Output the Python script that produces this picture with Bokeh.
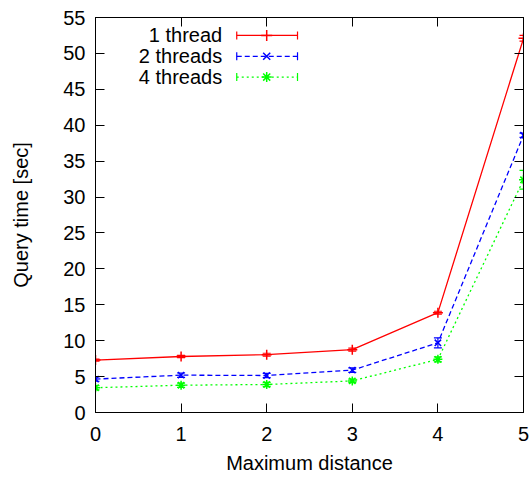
import math
from bokeh.plotting import figure
from bokeh.models import (ColumnDataSource, Whisker, TeeHead, LinearAxis, Range1d,
                          FixedTicker, Label)
from bokeh.embed import file_html
from bokeh.resources import INLINE

# ---- data ----
distance = [0, 1, 2, 3, 4, 5]
t1 = [7.3, 7.8, 8.05, 8.75, 13.9, 52.1]
t1_err = [0.15, 0.15, 0.2, 0.2, 0.2, 0.4]
t2 = [4.65, 5.2, 5.15, 5.9, 9.7, 38.6]
t2_err = [0.3, 0.3, 0.3, 0.3, 0.7, 0.3]
t4 = [3.45, 3.8, 3.9, 4.4, 7.4, 32.4]
t4_err = [0.3, 0.3, 0.3, 0.25, 0.35, 1.3]
series_labels = ["1 thread", "2 threads", "4 threads"]
x_ticks = [0, 1, 2, 3, 4, 5]
y_ticks = [0, 5, 10, 15, 20, 25, 30, 35, 40, 45, 50, 55]

FONT = "Liberation Sans"
FS = "20px"

p = figure(width=530, height=480, output_backend="svg", toolbar_location=None,
           x_range=Range1d(0, 5), y_range=Range1d(0, 55),
           min_border_left=95, min_border_right=7, min_border_top=17, min_border_bottom=68)
p.xgrid.visible = False
p.ygrid.visible = False
p.outline_line_color = "black"
p.outline_line_width = 1
p.background_fill_color = "white"
p.border_fill_color = "white"

def style_axis(ax, ticks, show_labels=True):
    ax.ticker = FixedTicker(ticks=ticks)
    ax.major_tick_in = 9
    ax.major_tick_out = 0
    ax.minor_tick_in = 0
    ax.minor_tick_out = 0
    ax.major_tick_line_color = "black"
    ax.axis_line_color = "black"
    ax.major_label_text_font = FONT
    ax.major_label_text_color = "black"
    ax.major_label_text_font_size = FS
    ax.axis_label_text_font = FONT
    ax.axis_label_text_font_size = FS
    ax.axis_label_text_font_style = "normal"
    ax.axis_label_text_color = "black"
    if not show_labels:
        ax.major_label_overrides = {t: "" for t in ticks}
        ax.major_label_standoff = 0

style_axis(p.xaxis[0], x_ticks)
style_axis(p.yaxis[0], y_ticks)
p.xaxis[0].axis_label = "Maximum distance"
p.xaxis[0].major_label_standoff = 14
p.xaxis[0].axis_label_standoff = 8
p.yaxis[0].axis_label = "Query time [sec]"
p.yaxis[0].major_label_standoff = 10
p.yaxis[0].axis_label_standoff = 28

top_ax = LinearAxis()
style_axis(top_ax, x_ticks, show_labels=False)
p.add_layout(top_ax, "above")
right_ax = LinearAxis()
style_axis(right_ax, y_ticks, show_labels=False)
p.add_layout(right_ax, "right")

series = [
    (t1, t1_err, "#ff0000", "solid", "cross", 10),
    (t2, t2_err, "#0000ff", "5 3", "x", 9),
    (t4, t4_err, "#00ff00", "2 3", "asterisk", 9),
]

for vals, err, color, dash, marker, msize in series:
    src = ColumnDataSource(dict(
        x=distance, y=vals,
        lo=[v - e for v, e in zip(vals, err)],
        hi=[v + e for v, e in zip(vals, err)],
    ))
    p.line("x", "y", source=src, line_color=color, line_width=1.3, line_dash=dash)
    p.scatter("x", "y", source=src, marker=marker, size=msize,
              line_color=color, line_width=1.5)
    w = Whisker(base="x", lower="lo", upper="hi", source=src, dimension="height",
                line_color=color, line_width=1.2,
                upper_head=TeeHead(size=8, line_color=color, line_width=1.2),
                lower_head=TeeHead(size=8, line_color=color, line_width=1.2))
    p.add_layout(w)

# ---- key (gnuplot style: text right-aligned, sample to the right) ----
key_text_x = 1.48
key_x0, key_x1, key_xm = 1.65, 2.36, 2.0
key_rows = [52.5, 49.6, 46.7]
for (vals, err, color, dash, marker, msize), lab, ky in zip(series, series_labels, key_rows):
    p.add_layout(Label(x=key_text_x, y=ky, text=lab, text_align="right",
                       text_baseline="middle", text_font=FONT, text_font_size=FS,
                       text_color="black"))
    p.segment(x0=[key_x0], x1=[key_x1], y0=[ky], y1=[ky], line_color=color,
              line_width=1.3, line_dash=dash)
    p.scatter(x=[key_x0, key_x1], y=[ky, ky], marker="dash", angle=math.pi / 2,
              size=8, line_color=color, line_width=1.2)
    p.scatter(x=[key_xm], y=[ky], marker=marker, size=msize + 1, line_color=color,
              line_width=1.5)

open("out.html", "w").write(file_html(p, INLINE))
